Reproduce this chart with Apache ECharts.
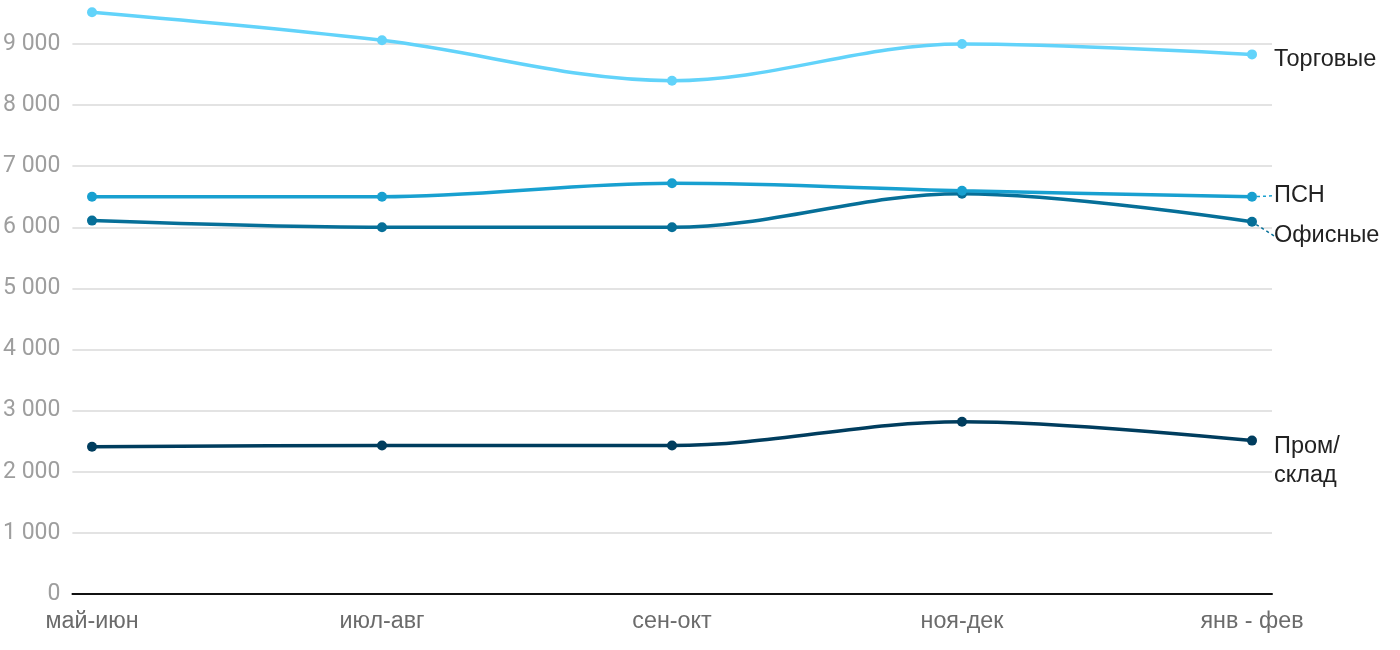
<!DOCTYPE html>
<html><head><meta charset="utf-8">
<script src="https://cdn.jsdelivr.net/npm/echarts@6/dist/echarts.min.js"></script>
<style>html,body{margin:0;padding:0;background:#fff}#c{width:1400px;height:650px}</style>
</head><body><div id="c"></div>
<script>
const categories = ['май-июн', 'июл-авг', 'сен-окт', 'ноя-дек', 'янв - фев'];
const torgovye = [9520, 9060, 8400, 9000, 8830];
const psn = [6500, 6500, 6720, 6600, 6500];
const ofisnye = [6110, 6000, 6000, 6550, 6090];
const prom = [2410, 2430, 2430, 2820, 2510];
const seriesNames = ['Торговые', 'ПСН', 'Офисные', 'Пром/\nсклад'];
const seriesColors = ['#62d3fa', '#18a0d0', '#066f98', '#003d5e'];
const labelDy = [5, -1, 14, 20];
const yMax = 9540;

const chart = echarts.init(document.getElementById('c'));
const data = [torgovye, psn, ofisnye, prom];
const series = data.map((vals, i) => ({
  type: 'line',
  name: seriesNames[i],
  xAxisIndex: 1, yAxisIndex: 1,
  data: vals.map((v, j) => j === vals.length - 1 ? {
    value: v,
    label: {show: true, position: 'right', distance: 17, formatter: seriesNames[i],
      color: '#222', fontSize: 23.5, lineHeight: 29, fontFamily: 'Liberation Sans'},
    labelLine: {show: i === 1 || i === 2, length2: 0, lineStyle: {color: seriesColors[i], width: 1.5, type: [3, 3]}}
  } : v),
  smooth: 0.35,
  symbol: 'circle', symbolSize: 10,
  lineStyle: {width: 3.5, color: seriesColors[i]},
  itemStyle: {color: seriesColors[i]},
  labelLayout: {dy: labelDy[i]},
  z: 10 - i
}));

chart.setOption({
  animation: false,
  grid: [
    {left: 72, right: 128, top: 11, bottom: 56},
    {left: 92, right: 148, top: 11, bottom: 56}
  ],
  xAxis: [
    {type: 'category', gridIndex: 0, data: categories, boundaryGap: false,
     axisLine: {lineStyle: {color: '#111', width: 2}}, axisTick: {show: false}, axisLabel: {show: false}},
    {type: 'category', gridIndex: 1, data: categories, boundaryGap: false,
     axisLine: {show: false}, axisTick: {show: false},
     axisLabel: {color: '#6b6b6b', fontSize: 23.3, fontFamily: 'Liberation Sans', margin: 16}}
  ],
  yAxis: [
    {type: 'value', gridIndex: 0, min: 0, max: yMax, interval: 1000,
     axisLine: {show: false}, axisTick: {show: false},
     splitLine: {lineStyle: {color: '#e3e3e3', width: 2}, showMaxLine: false},
     axisLabel: {color: '#9e9e9e', fontSize: 23, fontFamily: 'Roboto', margin: 12, showMaxLabel: false,
       padding: [5, 0, 0, 0],
       formatter: v => v === yMax ? '' : String(v).replace(/\B(?=(\d{3})+(?!\d))/g, ' ')}},
    {type: 'value', gridIndex: 1, min: 0, max: yMax, show: false}
  ],
  series
});
</script></body></html>
